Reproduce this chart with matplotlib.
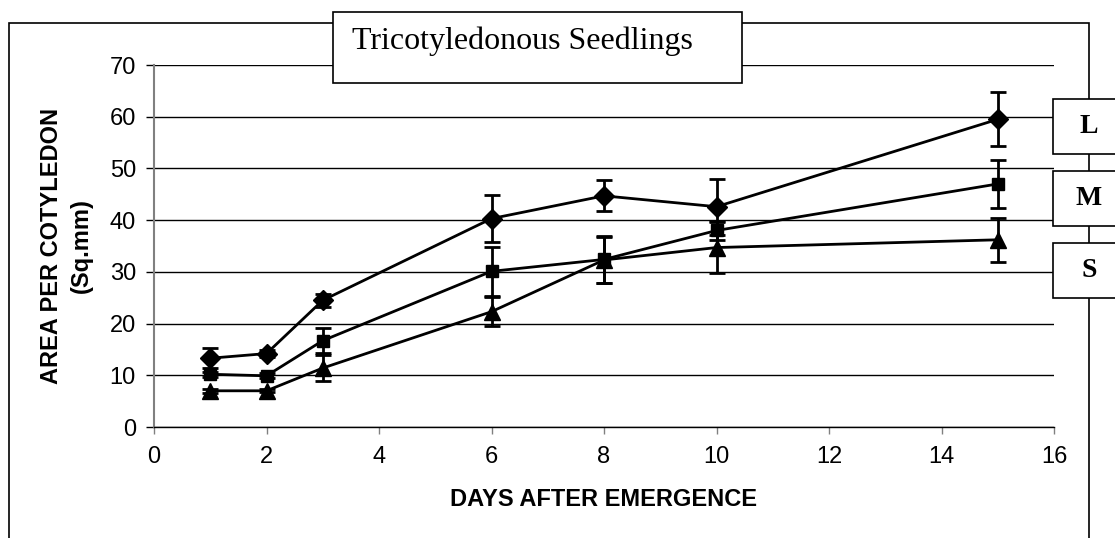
import matplotlib.pyplot as plt
from matplotlib.patches import Rectangle

# days after emergence
days = [1, 2, 3, 6, 8, 10, 15]

# mean area per cotyledon and error for each seedling size class
large = [13.3, 14.2, 24.5, 40.3, 44.7, 42.6, 59.5]
large_err = [1.9, 0.6, 1.2, 4.6, 3.0, 5.4, 5.2]
medium = [10.2, 9.9, 16.7, 30.1, 32.4, 38.0, 47.0]
medium_err = [0.5, 0.5, 2.4, 4.7, 4.5, 1.8, 4.6]
small = [7.0, 7.0, 11.4, 22.3, 32.3, 34.7, 36.2]
small_err = [0.4, 0.3, 2.5, 2.8, 4.4, 5.0, 4.2]

series = [("L", large, large_err, "D", 10),
          ("M", medium, medium_err, "s", 9),
          ("S", small, small_err, "^", 11)]

SANS = "Liberation Sans"
SERIF = "Liberation Serif"
W, H = 1115, 538

fig = plt.figure(figsize=(W / 100, H / 100), dpi=100)

# outer chart frame (bottom runs off the picture)
fig.patches.append(Rectangle((9 / W, -0.05), (1089 - 9) / W, 1.05 - 23 / H,
                             transform=fig.transFigure, fill=False,
                             edgecolor="black", linewidth=1.2, zorder=0))

ax = fig.add_axes([154 / W, 1 - 427 / H, (1054 - 154) / W, (427 - 65) / H])
ax.set_xlim(0, 16)
ax.set_ylim(0, 70)
ax.set_xticks(range(0, 17, 2))
ax.set_yticks(range(0, 71, 10))
ax.grid(axis="y", color="black", linewidth=1.0)
ax.set_axisbelow(True)
for side in ["top", "right"]:
    ax.spines[side].set_visible(False)
ax.spines["left"].set_color("#808080")
ax.spines["left"].set_linewidth(1.5)
ax.spines["bottom"].set_linewidth(1.0)
ax.tick_params(axis="y", direction="out", length=6, width=1, color="black",
               labelsize=17, pad=7)
ax.tick_params(axis="x", direction="out", length=5, width=1, color="#808080",
               labelsize=17, pad=9)
for lbl in ax.get_xticklabels() + ax.get_yticklabels():
    lbl.set_fontfamily(SANS)

for name, vals, err, mk, ms in series:
    ax.errorbar(days, vals, yerr=err, color="black", marker=mk, markersize=ms,
                linewidth=2, elinewidth=2, capsize=6, capthick=2, zorder=3)

ax.set_xlabel("DAYS AFTER EMERGENCE", fontsize=17, fontweight="bold",
              family=SANS, labelpad=14)
ax.set_ylabel("AREA PER COTYLEDON\n(Sq.mm)", fontsize=17, fontweight="bold",
              family=SANS, labelpad=12, linespacing=1.4)

# title box
fig.text(522 / W, 1 - 41 / H, "Tricotyledonous Seedlings", family=SERIF,
         fontsize=23, ha="center", va="center")
fig.patches.append(Rectangle((333 / W, 1 - 83 / H), (742 - 333) / W, (83 - 12) / H,
                             transform=fig.transFigure, facecolor="white",
                             edgecolor="black", linewidth=1.2, zorder=1))

# size class label boxes
for name, y0, y1 in [("L", 99, 154), ("M", 171, 226), ("S", 243, 298)]:
    fig.patches.append(Rectangle((1053 / W, 1 - y1 / H), 72 / W, (y1 - y0) / H,
                                 transform=fig.transFigure, facecolor="white",
                                 edgecolor="black", linewidth=1.2, zorder=1))
    fig.text(1089 / W, 1 - (y0 + y1) / 2 / H, name, family=SERIF, fontsize=20,
             fontweight="bold", ha="center", va="center")

fig.savefig("out.png", dpi=100)
